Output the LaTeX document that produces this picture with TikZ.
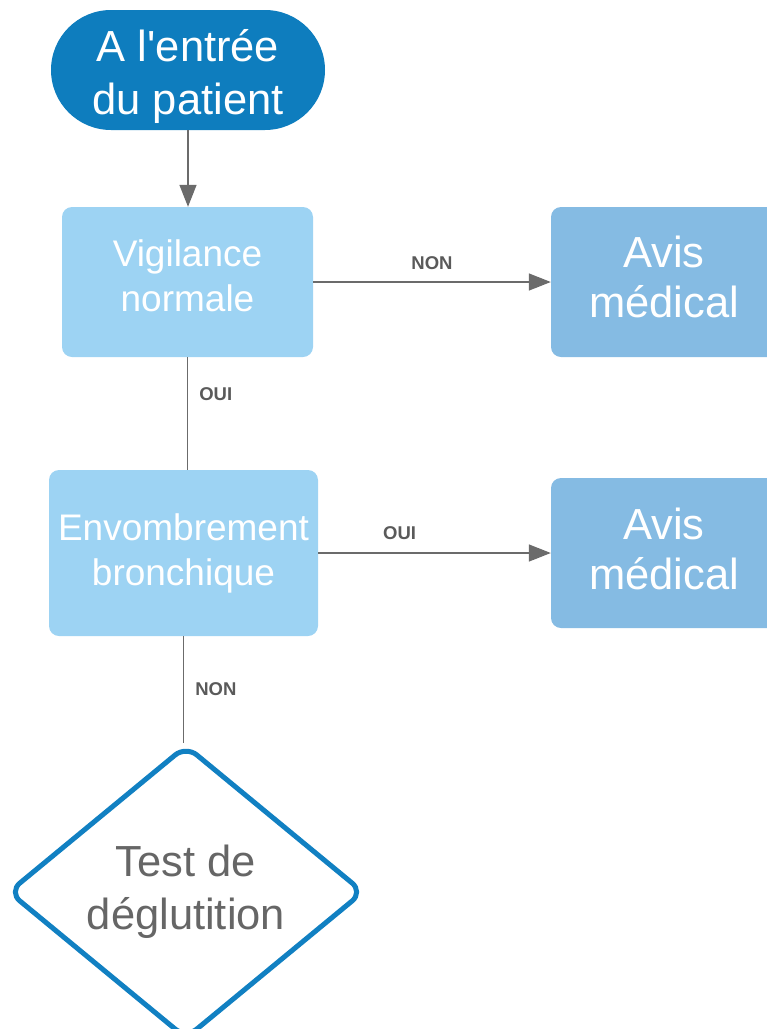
\documentclass[tikz,border=0pt]{standalone}
\usepackage{fontspec}
\setmainfont{Liberation Sans}
\usetikzlibrary{arrows.meta,shapes.geometric,positioning}
\definecolor{startblue}{HTML}{0E7DBE}
\definecolor{lightbox}{HTML}{9DD3F3}
\definecolor{avisbox}{HTML}{85BBE3}
\definecolor{conn}{HTML}{6B6B6B}
\definecolor{lbl}{HTML}{5A5A5A}
\definecolor{dtext}{HTML}{666666}
\definecolor{dborder}{HTML}{1180C2}
\tikzset{
  startnode/.style={rectangle, rounded corners=60pt, fill=startblue, text=white,
    minimum width=274pt, minimum height=120pt, align=center, inner sep=0pt,
    font=\fontsize{43.5}{53}\selectfont},
  stepbox/.style={rectangle, rounded corners=10pt, fill=lightbox, text=white,
    align=center, inner sep=0pt, font=\fontsize{37}{45}\selectfont},
  avisnode/.style={rectangle, rounded corners=10pt, fill=avisbox, text=white,
    minimum width=226pt, minimum height=150pt, align=center, inner sep=0pt,
    font=\fontsize{43.5}{50}\selectfont},
  decision/.style={diamond, draw=dborder, line width=5pt, rounded corners=14pt,
    text=dtext, minimum width=356pt, minimum height=294pt, aspect=1.21,
    align=center, inner sep=0pt, font=\fontsize{43.5}{53}\selectfont},
  link/.style={draw=conn, line width=1.5pt},
  arrowlink/.style={link, -{Triangle[length=22pt,width=17pt]}},
  lab/.style={text=lbl, font=\bfseries\fontsize{18.5}{22}\selectfont, inner sep=0pt}
}
\begin{document}
\begin{tikzpicture}[x=1pt,y=-1pt]
\useasboundingbox (0,0) rectangle (767,1029);
\node[startnode] (start) at (188,70) {A l\textquotesingle entrée\\du patient\\[-57pt]};
\node[stepbox, minimum width=251pt, minimum height=150pt] (vig) at (187.5,282) {Vigilance\\normale\\[-33pt]};
\node[avisnode] (avis1) at (664,282) {Avis\\médical\\[-40pt]};
\node[stepbox, minimum width=269pt, minimum height=166pt] (env) at (183.5,553) {Envombrement\\bronchique};
\node[avisnode] (avis2) at (664,553) {Avis\\médical\\[-42pt]};
\node[decision] (test) at (186,892) {Test de\\déglutition};

\draw[arrowlink] (start.south) -- (start.south |- vig.north);
\draw[arrowlink] (vig.east) -- (avis1.west)
  node[lab, midway, above=12pt] (lnon1) {NON};
\draw[link] (vig.south) -- (vig.south |- env.north)
  node[lab, pos=0.33, right=11pt] (loui1) {OUI};
\draw[arrowlink] (env.east) -- (avis2.west)
  node[lab, pos=0.35, above=13pt] (loui2) {OUI};
\draw[link] (env.south) -- (env.south |- test.north)
  node[lab, pos=0.5, right=11pt] (lnon2) {NON};
\end{tikzpicture}
\end{document}
